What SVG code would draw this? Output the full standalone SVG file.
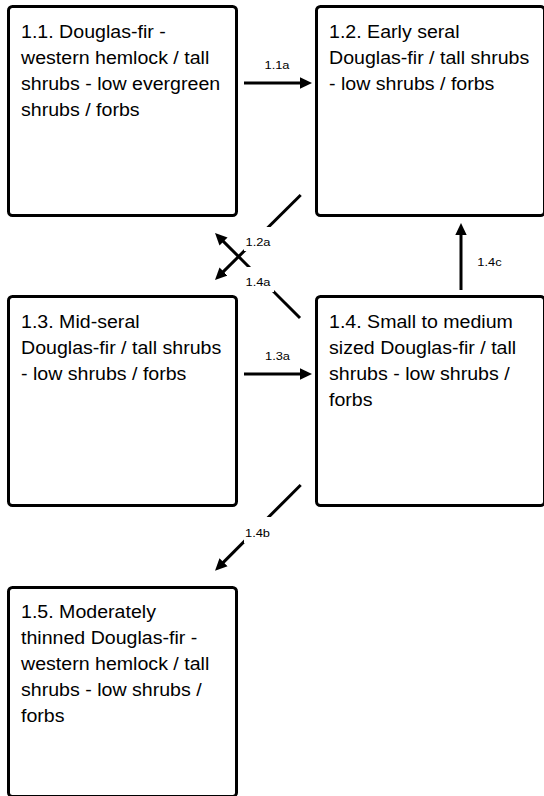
<svg xmlns="http://www.w3.org/2000/svg" width="544" height="796" viewBox="0 0 544 796">
<style>
.box{fill:#fff;stroke:#000;stroke-width:3}
.t{font-family:"Liberation Sans",Arial,Helvetica,sans-serif;font-size:17.5px;fill:#000}
.lbl{font-family:"Liberation Sans",Arial,Helvetica,sans-serif;font-size:11.5px;fill:#000;text-anchor:middle}
.edge{stroke:#000;stroke-width:3;fill:none;marker-end:url(#ah)}
.bg{fill:#fff}
</style>
<defs>
<marker id="ah" viewBox="0 0 12 12" refX="2" refY="6" markerWidth="12" markerHeight="12" markerUnits="userSpaceOnUse" orient="auto">
<path d="M0,0.3 L12,6 L0,11.7 z" fill="#000"/>
</marker>
</defs>
<rect width="544" height="796" fill="#fff"/>
<g id="node-1-1">
<rect class="box" x="8.5" y="6.5" width="228" height="209" rx="4"/>
<text class="t" transform="matrix(1.12 0 0 1 21 0)"><tspan x="0" y="38">1.1. Douglas-fir -</tspan><tspan x="0" y="64">western hemlock / tall</tspan><tspan x="0" y="90">shrubs - low evergreen</tspan><tspan x="0" y="116">shrubs / forbs</tspan></text>
</g>
<g id="node-1-2">
<rect class="box" x="316.5" y="6.5" width="228" height="209" rx="4"/>
<text class="t" transform="matrix(1.12 0 0 1 329 0)"><tspan x="0" y="38">1.2. Early seral</tspan><tspan x="0" y="64">Douglas-fir / tall shrubs</tspan><tspan x="0" y="90">- low shrubs / forbs</tspan></text>
</g>
<g id="node-1-3">
<rect class="box" x="8.5" y="296.5" width="228" height="209" rx="4"/>
<text class="t" transform="matrix(1.12 0 0 1 21 0)"><tspan x="0" y="328">1.3. Mid-seral</tspan><tspan x="0" y="354">Douglas-fir / tall shrubs</tspan><tspan x="0" y="380">- low shrubs / forbs</tspan></text>
</g>
<g id="node-1-4">
<rect class="box" x="316.5" y="296.5" width="228" height="209" rx="4"/>
<text class="t" transform="matrix(1.12 0 0 1 329 0)"><tspan x="0" y="328">1.4. Small to medium</tspan><tspan x="0" y="354">sized Douglas-fir / tall</tspan><tspan x="0" y="380">shrubs - low shrubs /</tspan><tspan x="0" y="406">forbs</tspan></text>
</g>
<g id="node-1-5">
<rect class="box" x="8.5" y="587.5" width="228" height="209" rx="4"/>
<text class="t" transform="matrix(1.12 0 0 1 21 0)"><tspan x="0" y="618">1.5. Moderately</tspan><tspan x="0" y="644">thinned Douglas-fir -</tspan><tspan x="0" y="670">western hemlock / tall</tspan><tspan x="0" y="696">shrubs - low shrubs /</tspan><tspan x="0" y="722">forbs</tspan></text>
</g>
<g id="connectors">
<line class="edge" x1="244" y1="83" x2="302" y2="83"/>
<line class="edge" x1="244" y1="374" x2="302" y2="374"/>
<line class="edge" x1="461" y1="290" x2="461" y2="233"/>
<line class="edge" x1="300.7" y1="195" x2="222.1" y2="272.9"/>
<line class="edge" x1="300" y1="318" x2="222.1" y2="240.1"/>
<line class="edge" x1="300.7" y1="485" x2="222.1" y2="563.6"/>
<rect class="bg" x="244" y="227" width="28" height="24"/>
<rect class="bg" x="244" y="267" width="30" height="25"/>
<rect class="bg" x="244" y="517" width="28" height="26"/>
<text class="lbl" transform="matrix(1.12 0 0 1 277 0)" x="0" y="69">1.1a</text>
<text class="lbl" transform="matrix(1.12 0 0 1 277.5 0)" x="0" y="360">1.3a</text>
<text class="lbl" transform="matrix(1.12 0 0 1 489.5 0)" x="0" y="266">1.4c</text>
<text class="lbl" transform="matrix(1.12 0 0 1 258 0)" x="0" y="246">1.2a</text>
<text class="lbl" transform="matrix(1.12 0 0 1 258 0)" x="0" y="286">1.4a</text>
<text class="lbl" transform="matrix(1.12 0 0 1 257.5 0)" x="0" y="537">1.4b</text>
</g>
</svg>
